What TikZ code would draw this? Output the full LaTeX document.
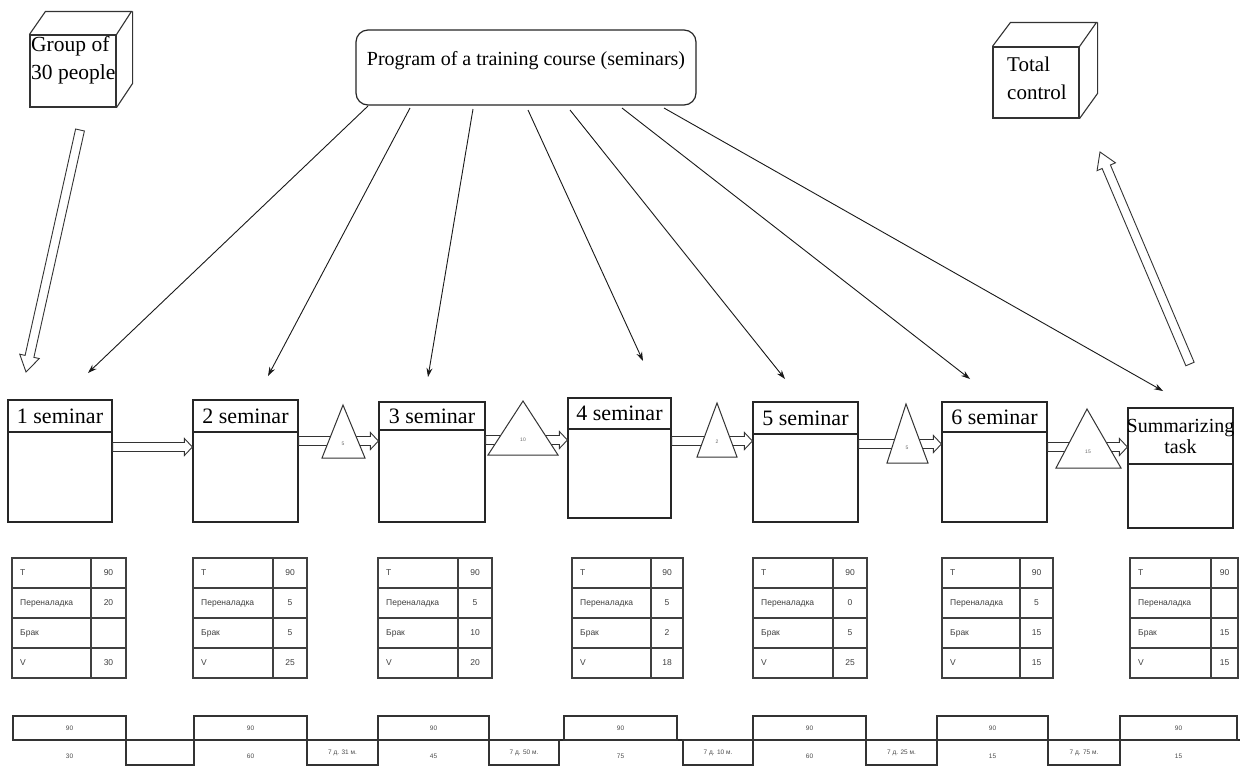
\documentclass[tikz,border=0pt]{standalone}
\usepackage{fontspec}
\setmainfont{Liberation Serif}
\newfontfamily\tabfont{Liberation Sans}
\usetikzlibrary{arrows.meta,fit,calc}

% one table of seminar figures: name, left x, column x, right x, four values
\newcommand\smtable[8]{%
  \node[tabframe, fit={(#2,558) (#4,678)}] (#1) {};
  \draw[tabline] (#3,558) -- (#3,678);
  \draw[tabline] (#2,588) -- (#4,588) (#2,618) -- (#4,618) (#2,648) -- (#4,648);
  \node[tablabel] (#1-l1) at (#2+8,573) {T};
  \node[tablabel] (#1-l2) at (#2+8,603) {Переналадка};
  \node[tablabel] (#1-l3) at (#2+8,633) {Брак};
  \node[tablabel] (#1-l4) at (#2+8,663) {V};
  \node[tabvalue] (#1-v1) at ({(#3+#4)/2},573) {#5};
  \node[tabvalue] (#1-v2) at ({(#3+#4)/2},603) {#6};
  \node[tabvalue] (#1-v3) at ({(#3+#4)/2},633) {#7};
  \node[tabvalue] (#1-v4) at ({(#3+#4)/2},663) {#8};
}

% seminar box with a header strip: name, x1, y1, x2, y2, header y, title
\newcommand\semblock[7]{%
  \node[box, fit={(#2,#3) (#4,#5)}] (#1) {};
  \draw[box] (#2,#6) -- (#4,#6);
  \node[semtext] (#1-t) at ({(#2+#4)/2},{(#3+#6)/2}) {#7};
}
\newcommand\semfont{\fontsize{22}{25}\selectfont}

\begin{document}
\begin{tikzpicture}[x=1pt,y=-1pt,
  box/.style={draw=black!85, line width=1.2pt, inner sep=0pt},
  semtext/.style={font=\fontsize{20}{25}\selectfont, inner sep=0pt, align=center},
  feed/.style={draw=black!90, line width=0.9pt, -{Stealth[length=9pt,width=6pt]}},
  % outlined block arrow: shaft half width, head half width, head length
  blockarrow/.style n args={3}{draw=black!80, line width=0.9pt, fill=white, line join=miter,
    to path={let \p1=(\tikztostart), \p2=(\tikztotarget),
      \n1={atan2(\y2-\y1,\x2-\x1)}, \n2={veclen(\x2-\x1,\y2-\y1)} in
      {[shift={(\p1)}, rotate=\n1]
       (0pt,-#1pt) -- ({\n2-#3pt},-#1pt) -- ({\n2-#3pt},-#2pt) -- ({\n2},0pt)
       -- ({\n2-#3pt},#2pt) -- ({\n2-#3pt},#1pt) -- (0pt,#1pt) -- cycle}}},
  hollow/.style={blockarrow={4.5}{8.5}{8}},
  bighollow/.style={blockarrow={4.5}{10}{16}},
  tri/.style={draw=black!80, line width=1pt, fill=white, line join=miter},
  trinum/.style={font=\tabfont\fontsize{5}{6}\selectfont, text=black!60, inner sep=0pt},
  tabframe/.style={draw=black!75, line width=1.2pt, inner sep=0pt},
  tabline/.style={draw=black!75, line width=1.2pt},
  tablabel/.style={font=\tabfont\fontsize{8.5}{10}\selectfont, text=black!75, anchor=west, inner sep=0pt},
  tabvalue/.style={font=\tabfont\fontsize{8.5}{10}\selectfont, text=black!75, inner sep=0pt},
  tlbox/.style={draw=black!80, line width=1.2pt, inner sep=0pt},
  tltext/.style={font=\tabfont\fontsize{6.5}{8}\selectfont, text=black!70, inner sep=0pt},
  cube/.style={draw=black!80, line width=1.1pt, line join=miter}
]
\useasboundingbox[fill=white] (0,0) rectangle (1242,769);

% ---- top row: group, program, total control ----
\node[cube, inner sep=0pt, fit={(30,35) (116,107)}] (group) {};
\draw[cube] (group.north west) -- ++(16,-23) -- ++(86,0) -- (group.north east)
            (group.north east) ++(16,-23) -- ++(0,72) -- (group.south east);
\node[anchor=north west, align=left, inner sep=0pt,
      font=\fontsize{21.5}{28}\selectfont] (grouptext) at (31,36) {Group of\\30 people};

\node[cube, inner sep=0pt, fit={(993,47) (1079,118)}] (total) {};
\draw[cube] (total.north west) -- ++(18,-24) -- ++(86,0) -- (total.north east)
            (total.north east) ++(18,-24) -- ++(0,71) -- (total.south east);
\node[anchor=north west, align=left, inner sep=0pt,
      font=\fontsize{21}{28}\selectfont] (totaltext) at (1007,57) {Total\\control};

\node[draw=black!85, line width=1.2pt, rounded corners=12pt, inner sep=0pt,
      fit={(356,30) (696,105)}] (prog) {};
\node[font=\fontsize{20}{24}\selectfont, inner sep=0pt] (progtext) at (526,61)
  {Program of a training course (seminars)};

% ---- seminar boxes ----
\semblock{s1}{8}{400}{112}{522}{432}{\semfont 1 seminar}
\semblock{s2}{193}{400}{298}{522}{432}{\semfont 2 seminar}
\semblock{s3}{379}{402}{485}{522}{430}{\semfont 3 seminar}
\semblock{s4}{568}{398}{671}{518}{429}{\semfont 4 seminar}
\semblock{s5}{753}{402}{858}{522}{434}{\semfont 5 seminar}
\semblock{s6}{942}{402}{1047}{522}{432}{\semfont 6 seminar}
\semblock{s7}{1128}{408}{1233}{528}{464}{Summarizing\\[-4pt]task}

% ---- program feeds each seminar ----
\coordinate (p1) at (368,106);  \coordinate (e1) at (88,373);
\coordinate (p2) at (410,108);  \coordinate (e2) at (268,376);
\coordinate (p3) at (473,109);  \coordinate (e3) at (428,377);
\coordinate (p4) at (528,110);  \coordinate (e4) at (643,361);
\coordinate (p5) at (570,110);  \coordinate (e5) at (785,379);
\coordinate (p6) at (622,108);  \coordinate (e6) at (970,379);
\coordinate (p7) at (664,108);  \coordinate (e7) at (1163,391);
\foreach \i in {1,...,7} \draw[feed] (p\i) -- (e\i);

% ---- group enters, summary goes to control ----
\coordinate (gin) at (80,130);   \coordinate (gout) at (26,372);
\draw[bighollow] (gin) to (gout);
\coordinate (cin) at (1190,364); \coordinate (cout) at (1100,152);
\draw[bighollow] (cin) to (cout);

% ---- flow between seminars ----
\coordinate (f1a) at (s1.east |- 0,447); \coordinate (f1b) at (s2.west |- 0,447);
\coordinate (f2a) at (s2.east |- 0,441); \coordinate (f2b) at (s3.west |- 0,441);
\coordinate (f3a) at (s3.east |- 0,440); \coordinate (f3b) at (s4.west |- 0,440);
\coordinate (f4a) at (s4.east |- 0,441); \coordinate (f4b) at (s5.west |- 0,441);
\coordinate (f5a) at (s5.east |- 0,444); \coordinate (f5b) at (s6.west |- 0,444);
\coordinate (f6a) at (s6.east |- 0,447); \coordinate (f6b) at (s7.west |- 0,447);
\foreach \i in {1,...,6} \draw[hollow] (f\i a) to (f\i b);

% ---- waiting stocks ----
\draw[tri] (322,458) -- (343,405) -- (365,458) -- cycle;
\node[trinum] (w1) at (343,444) {5};
\draw[tri] (488,455) -- (523,401) -- (558,455) -- cycle;
\node[trinum] (w2) at (523,440) {10};
\draw[tri] (697,457) -- (717,403) -- (737,457) -- cycle;
\node[trinum] (w3) at (717,442) {2};
\draw[tri] (887,463) -- (906,404) -- (928,463) -- cycle;
\node[trinum] (w4) at (907,448) {5};
\draw[tri] (1056,468) -- (1087,409) -- (1121,468) -- cycle;
\node[trinum] (w5) at (1088,452) {15};

% ---- figures per seminar ----
\smtable{tab1}{12}{91}{126}{90}{20}{}{30}
\smtable{tab2}{193}{273}{307}{90}{5}{5}{25}
\smtable{tab3}{378}{458}{492}{90}{5}{10}{20}
\smtable{tab4}{572}{651}{683}{90}{5}{2}{18}
\smtable{tab5}{753}{833}{867}{90}{0}{5}{25}
\smtable{tab6}{942}{1020}{1053}{90}{5}{15}{15}
\smtable{tab7}{1130}{1211}{1238}{90}{}{15}{15}

% ---- time line ----
\draw[draw=black!85, line width=2pt] (13,740) -- (1240,740);
\foreach \n/\xa/\xb/\v in {1/13/126/30, 2/194/307/60, 3/378/489/45, 4/564/677/75,
                           5/753/866/60, 6/937/1048/15, 7/1120/1237/15} {
  \node[tlbox, fit={(\xa,716) (\xb,740)}] (up\n) {};
  \node[tltext] (up\n-t) at (up\n) {90};
  \node[tltext] (dn\n-t) at ({(\xa+\xb)/2},756) {\v};
}
\foreach \n/\xa/\xb/\v in {1/126/194/{}, 2/307/378/{7 д. 31 м.}, 3/489/559/{7 д. 50 м.},
                           4/683/753/{7 д. 10 м.}, 5/866/937/{7 д. 25 м.},
                           6/1048/1120/{7 д. 75 м.}} {
  \node[tlbox, fit={(\xa,740) (\xb,765)}] (lo\n) {};
  \node[tltext] (lo\n-t) at (lo\n) {\v};
}
\end{tikzpicture}
\end{document}
